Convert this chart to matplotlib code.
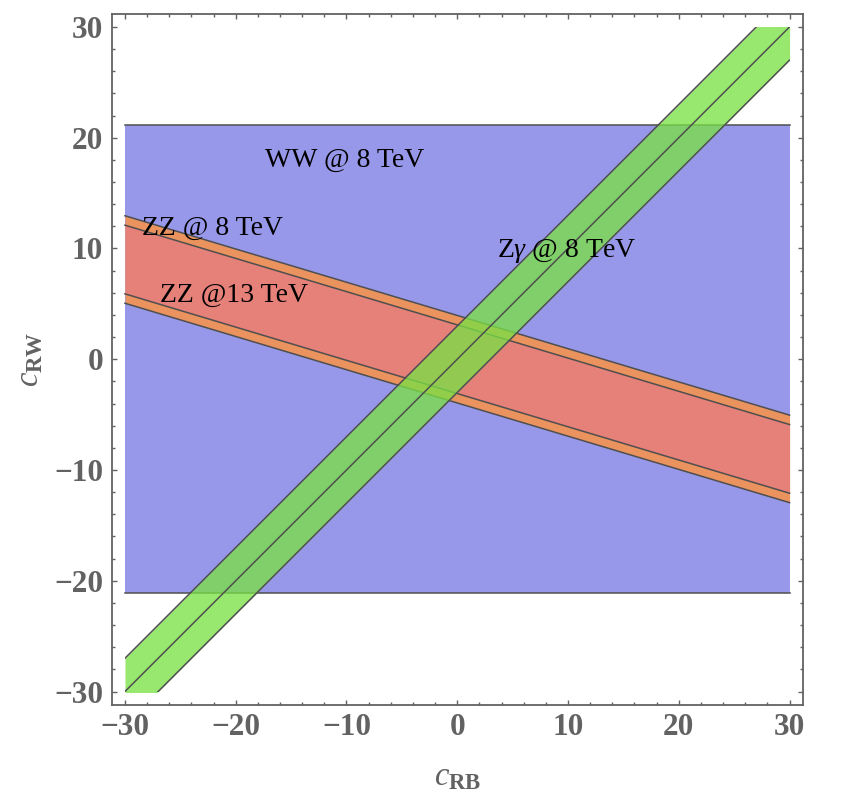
import numpy as np
import matplotlib.pyplot as plt
from matplotlib.patches import Rectangle

plt.rcParams["font.family"] = ["Liberation Serif", "DejaVu Serif"]
plt.rcParams["mathtext.fontset"] = "custom"
plt.rcParams["mathtext.rm"] = "Liberation Serif"
plt.rcParams["mathtext.it"] = "Liberation Serif:italic"
plt.rcParams["mathtext.bf"] = "Liberation Serif:bold"

# plot range of both couplings
c_range = [-30, 30]

# WW @ 8 TeV: horizontal band in c_RW
ww_band = [-21.1, 21.1]

# ZZ bands: c_RW = slope * c_RB +/- half width
zz_slope = -0.3
zz8_halfwidth = 3.95
zz13_halfwidth = 3.1

# Z gamma band: c_RW = slope * c_RB +/- half width
zg_slope = 1.0
zg_halfwidth = 3.0

labels = ["WW @ 8 TeV", "ZZ @ 8 TeV", "ZZ @13 TeV", "Z$\\mathit{\\gamma}$ @ 8 TeV"]
label_x = [-17.4, -28.5, -26.8, 3.6]
label_y = [17.4, 11.25, 5.2, 9.2]

edge = "#4f4f4f"
frame = "#626262"

fig = plt.figure(figsize=(8.46, 8.0), dpi=100)
ax = fig.add_axes([0.132, 0.119, 0.817, 0.864])

x = np.linspace(c_range[0], c_range[1], 200)

# WW band
ax.fill_between(x, ww_band[0], ww_band[1], color="#9898ea", lw=0, zorder=1)
for yb in ww_band:
    ax.plot(c_range, [yb, yb], color=edge, lw=1.1, zorder=2)

# ZZ bands
zz_mid = zz_slope * x
ax.fill_between(x, zz_mid - zz8_halfwidth, zz_mid + zz8_halfwidth,
                color="#eb935e", lw=0, zorder=3)
ax.fill_between(x, zz_mid - zz13_halfwidth, zz_mid + zz13_halfwidth,
                color="#e6817a", lw=0, zorder=4)
for w in [zz8_halfwidth, zz13_halfwidth]:
    ax.plot(x, zz_mid + w, color=edge, lw=1.1, zorder=5)
    ax.plot(x, zz_mid - w, color=edge, lw=1.1, zorder=5)

# Z gamma band, clipped to the square
clip = Rectangle((c_range[0], c_range[0]), c_range[1] - c_range[0],
                 c_range[1] - c_range[0], transform=ax.transData)
zg_mid = zg_slope * x
poly = ax.fill_between(x, zg_mid - zg_halfwidth, zg_mid + zg_halfwidth,
                       color="#79e145", alpha=0.77, lw=0, zorder=6)
poly.set_clip_path(clip)
for off in [-zg_halfwidth, 0, zg_halfwidth]:
    ln, = ax.plot(x, zg_mid + off, color=edge, lw=1.1, zorder=7)
    ln.set_clip_path(clip)

for t, tx, ty in zip(labels, label_x, label_y):
    ax.text(tx, ty, t, fontsize=20, color="black", ha="left",
            va="baseline", zorder=10)

ax.set_xlim(-31.2, 31.2)
ax.set_ylim(-31.2, 31.2)
ax.set_xticks(np.arange(-30, 31, 10))
ax.set_yticks(np.arange(-30, 31, 10))
ax.set_xticks(np.arange(-30, 31, 2), minor=True)
ax.set_yticks(np.arange(-30, 31, 2), minor=True)
ax.tick_params(which="both", direction="in", top=True, right=True,
               color=frame, width=1.0)
ax.tick_params(which="major", length=3.8, labelsize=22.5, labelcolor=frame, pad=6)
ax.tick_params(which="minor", length=2.0)
for lab in ax.get_xticklabels() + ax.get_yticklabels():
    lab.set_fontweight("bold")
for sp in ax.spines.values():
    sp.set_color(frame)
    sp.set_linewidth(1.3)

ax.set_xlabel(r"$\mathit{c}_{\mathbf{RB}}$", fontsize=23.5, color=frame, va="center")
ax.set_ylabel(r"$\mathit{c}_{\mathbf{RW}}$", fontsize=23.5, color=frame, va="center")
ax.xaxis.set_label_coords(0.5, -0.105)
ax.yaxis.set_label_coords(-0.118, 0.5)

fig.savefig("out.png", dpi=100)
